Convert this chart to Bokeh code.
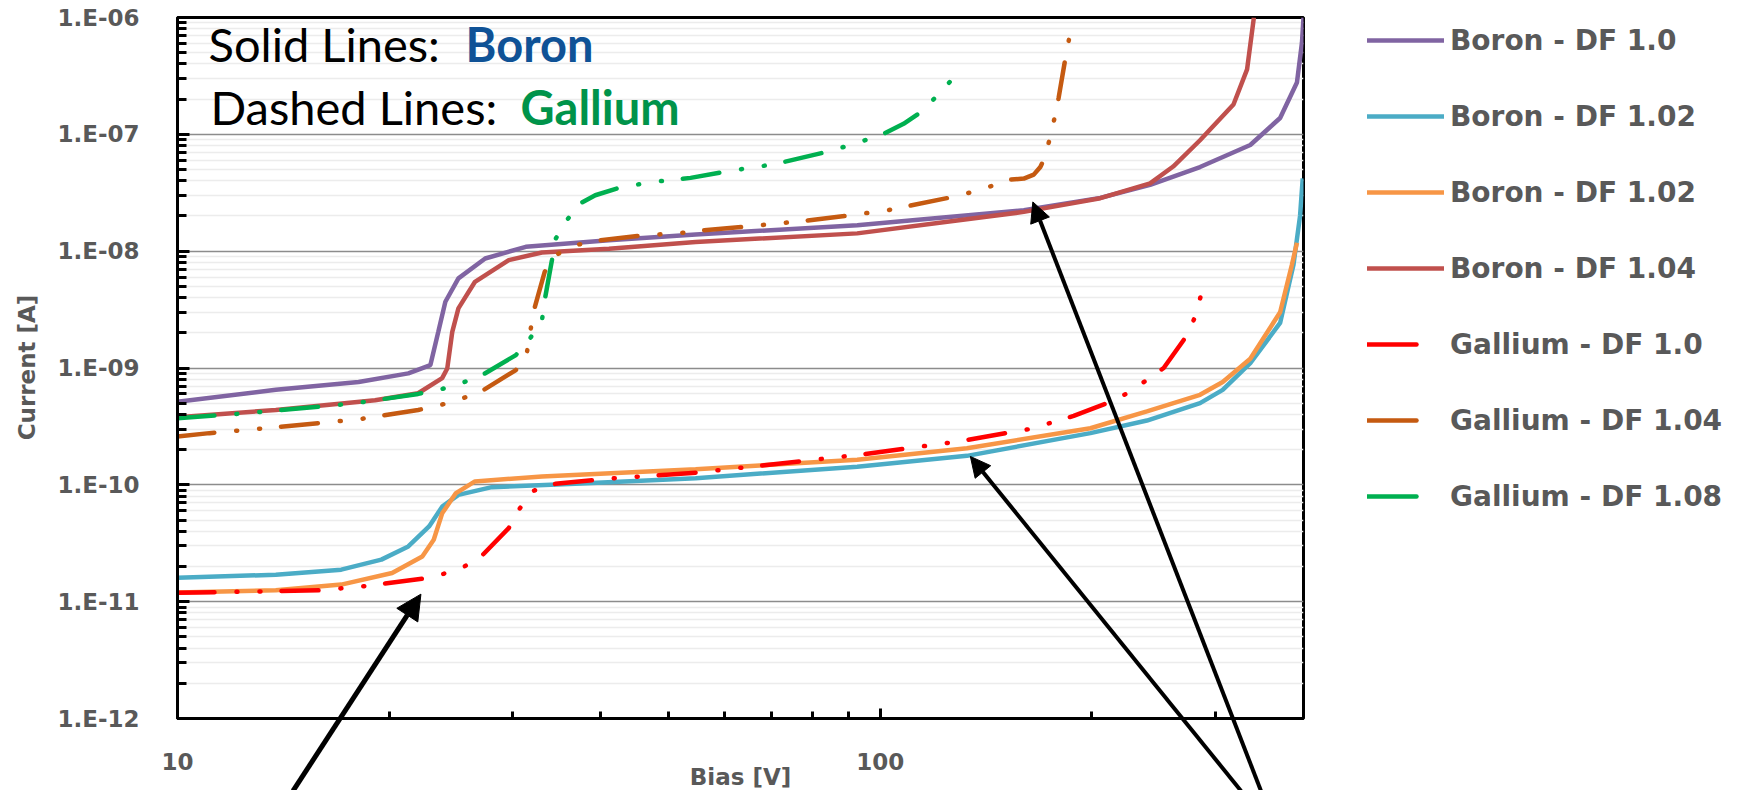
import math
from bokeh.plotting import figure
from bokeh.layouts import column
from bokeh.models import (Range1d, FixedTicker, CustomJSTickFormatter, Legend, LegendItem,
                          Label, Arrow, NormalHead)
from bokeh.embed import file_html
from bokeh.resources import INLINE

# ---------------- data ----------------
b10_bias = [10, 13.8, 18.1, 21.3, 22.9, 23.5, 24.05, 25.1, 27.4, 31.3, 41.1, 54.6, 92.7, 160, 205.6,
            242, 285, 336, 370.5, 391.5, 398, 400]
b10_cur = [5.15e-10, 6.5e-10, 7.6e-10, 9.0e-10, 1.06e-9, 2.04e-9, 3.69e-9, 5.85e-9, 8.66e-9, 1.09e-8,
           1.24e-8, 1.39e-8, 1.67e-8, 2.24e-8, 2.86e-8, 3.7e-8, 5.25e-8, 8.1e-8, 1.38e-7, 2.78e-7,
           6.1e-7, 1.0e-6]

b102a_bias = [10, 13.8, 17.1, 19.5, 21.3, 22.8, 23.8, 25.1, 28.0, 36.8, 54.6, 92.7, 132.8, 199, 239.5,
              285, 307, 336, 370.5, 387, 395.5, 399]
b102a_cur = [1.6e-11, 1.7e-11, 1.88e-11, 2.29e-11, 2.97e-11, 4.4e-11, 6.5e-11, 8.2e-11, 9.55e-11,
             1.02e-10, 1.14e-10, 1.43e-10, 1.77e-10, 2.77e-10, 3.55e-10, 5.0e-10, 6.5e-10, 1.1e-9,
             2.43e-9, 7.6e-9, 2.0e-8, 4.2e-8]

b102b_bias = [10, 13.8, 17.1, 20.2, 22.3, 23.15, 23.8, 24.9, 26.5, 33.0, 54.6, 92.7, 132.8, 199, 239.5,
              285, 307, 336, 370.5, 385, 391.5]
b102b_cur = [1.2e-11, 1.25e-11, 1.4e-11, 1.76e-11, 2.44e-11, 3.39e-11, 5.7e-11, 8.5e-11, 1.07e-10,
             1.18e-10, 1.36e-10, 1.64e-10, 2.06e-10, 3.05e-10, 4.25e-10, 5.9e-10, 7.6e-10, 1.2e-9,
             3.0e-9, 7.6e-9, 1.18e-8]

b104_bias = [10, 13.8, 19.1, 22.0, 23.8, 24.2, 24.6, 25.1, 26.5, 29.6, 33.0, 41.1, 54.6, 92.7, 160,
             205.6, 242, 261, 285, 318, 332.5, 340]
b104_cur = [3.79e-10, 4.37e-10, 5.3e-10, 6.08e-10, 8.2e-10, 9.9e-10, 2.04e-9, 3.24e-9, 5.47e-9,
            8.38e-9, 9.75e-9, 1.05e-8, 1.2e-8, 1.42e-8, 2.17e-8, 2.84e-8, 3.8e-8, 5.3e-8, 8.9e-8,
            1.8e-7, 3.6e-7, 1.0e-6]

g10_bias = [10, 15.9, 18.3, 22.3, 23.9, 25.6, 27.1, 29.6, 30.7, 32.1, 34.5, 41.1, 54.6, 92.7, 128.5,
            163.5, 188.4, 210, 225.5, 239.5, 253, 273, 281, 286]
g10_cur = [1.19e-11, 1.25e-11, 1.35e-11, 1.57e-11, 1.73e-11, 2.0e-11, 2.47e-11, 4.26e-11, 6.3e-11,
           8.9e-11, 1.02e-10, 1.13e-10, 1.27e-10, 1.8e-10, 2.34e-10, 3.01e-10, 3.89e-10, 4.99e-10,
           6.15e-10, 7.9e-10, 1.0e-9, 1.9e-9, 2.82e-9, 4.25e-9]

g104_bias = [10, 11.1, 13.8, 18.1, 22.0, 23.7, 25.3, 27.0, 30.3, 31.4, 32.1, 33.3, 34.7, 36.95, 39.5,
             45.1, 51.9, 56.1, 63.6, 78.2, 89.1, 102.8, 109.7, 125, 134, 143.4, 153, 160, 165.3,
             168.9, 170.7, 173.9, 176.8, 179.3, 183.3, 185.7, 187]
g104_cur = [2.59e-10, 2.77e-10, 3.11e-10, 3.64e-10, 4.37e-10, 4.83e-10, 5.43e-10, 6.27e-10, 9.6e-10,
            1.33e-9, 3.03e-9, 6.66e-9, 9.4e-9, 1.13e-8, 1.23e-8, 1.35e-8, 1.43e-8, 1.51e-8, 1.61e-8,
            1.82e-8, 2.0e-8, 2.25e-8, 2.44e-8, 2.86e-8, 3.17e-8, 3.59e-8, 4.09e-8, 4.18e-8, 4.52e-8,
            5.26e-8, 6.0e-8, 8.8e-8, 1.35e-7, 2.04e-7, 4.43e-7, 6.7e-7, 9.5e-7]

g108_bias = [10, 12.0, 13.8, 16.9, 18.1, 22.0, 23.7, 25.3, 27.0, 30.3, 31.7, 33.0, 33.3, 34.1, 34.5,
             35.8, 37.4, 39.3, 42.2, 45.1, 48.4, 53.7, 59.2, 63.4, 68.1, 72.9, 83.0, 88.7, 94.7,
             101.1, 107.9, 113.8, 119.5, 125.5]
g108_cur = [3.72e-10, 4.02e-10, 4.32e-10, 4.83e-10, 5.05e-10, 6.0e-10, 6.57e-10, 7.4e-10, 8.55e-10,
            1.29e-9, 1.77e-9, 2.54e-9, 3.81e-9, 8.38e-9, 1.27e-8, 1.84e-8, 2.56e-8, 3.01e-8, 3.44e-8,
            3.72e-8, 3.96e-8, 4.24e-8, 4.7e-8, 5.03e-8, 5.36e-8, 5.8e-8, 6.97e-8, 7.8e-8, 8.83e-8,
            1.01e-7, 1.23e-7, 1.53e-7, 2.04e-7, 2.8e-7]

series_labels = ["Boron - DF 1.0", "Boron - DF 1.02", "Boron - DF 1.02", "Boron - DF 1.04",
                 "Gallium - DF 1.0", "Gallium - DF 1.04", "Gallium - DF 1.08"]

x_major_ticks = [10, 100, 1000]
x_minor_ticks = [20, 30, 40, 50, 60, 70, 80, 90, 200, 300]
y_major_ticks = [1e-12, 1e-11, 1e-10, 1e-9, 1e-8, 1e-7, 1e-6]
y_minor_ticks = [m * 10.0 ** e for e in range(-12, -6) for m in range(2, 10)]

# arrows: tail (below the axis) -> tip (on the curves)
arrow_tail_bias = [14.6, 326, 348]
arrow_tail_cur = [2.4e-13, 2.4e-13, 2.4e-13]
arrow_tip_bias = [22.2, 134.3, 164.8]
arrow_tip_cur = [1.16e-11, 1.75e-10, 2.64e-8]

# legend proxies: placed far outside the visible area (only their legend swatches show)
swatch_bias = [1e-3, 2e-3]
swatch_cur = [1e-30, 1e-30]

# ---------------- layout geometry (pixels) ----------------
W, H = 1735, 790
FL, FR, FT, FB = 177, 1303, 17, 718          # frame edges
XMIN, XMAX, YMIN, YMAX = 10, 400, 1e-12, 1e-6
PX_X = (FR - FL) / math.log10(XMAX / XMIN)
PX_Y = (FB - FT) / math.log10(YMAX / YMIN)

GRAY = "#595959"
FONT = "DejaVu Sans"

# ---------------- main figure ----------------
p = figure(width=W, height=H, x_axis_type="log", y_axis_type="log",
           x_range=Range1d(XMIN, XMAX), y_range=Range1d(YMIN, YMAX),
           output_backend="svg", toolbar_location=None,
           min_border_left=FL, min_border_right=W - FR, min_border_top=FT, min_border_bottom=H - FB)
p.outline_line_color = "black"
p.outline_line_width = 3
p.background_fill_color = "white"
p.border_fill_color = "white"

xt = FixedTicker(ticks=x_major_ticks, minor_ticks=x_minor_ticks)
yt = FixedTicker(ticks=y_major_ticks, minor_ticks=y_minor_ticks)

xa = p.xaxis[0]
xa.ticker = xt
xa.formatter = CustomJSTickFormatter(code="return Math.round(tick).toString();")
ya = p.yaxis[0]
ya.ticker = yt
ya.formatter = CustomJSTickFormatter(code="""
const e = Math.round(Math.log10(tick));
const a = Math.abs(e);
return "1.E" + (e < 0 ? "-" : "+") + (a < 10 ? "0" + a : "" + a);
""")

for ax in (xa, ya):
    ax.axis_line_color = "black"
    ax.axis_line_width = 3
    ax.major_tick_line_color = "black"
    ax.major_tick_line_width = 3
    ax.minor_tick_line_color = "black"
    ax.minor_tick_line_width = 3
    ax.major_tick_out = 0
    ax.minor_tick_out = 0
    ax.major_label_text_font = FONT
    ax.major_label_text_font_style = "bold"
    ax.major_label_text_font_size = "23px"
    ax.major_label_text_color = GRAY

xa.major_tick_in = 10
xa.minor_tick_in = 7
xa.major_label_standoff = 34
ya.major_tick_in = 12
ya.minor_tick_in = 9
ya.major_label_standoff = 38

p.xgrid.grid_line_color = None
p.ygrid.ticker = yt
p.ygrid.grid_line_color = "#8c8c8c"
p.ygrid.grid_line_width = 1.5
p.ygrid.minor_grid_line_color = "#ececec"
p.ygrid.minor_grid_line_width = 1.5

# ---------------- series ----------------
LW = 4.5
DASH = "37 22 1 22 1 21"
colors = ["#8064A2", "#4BACC6", "#F79646", "#C0504D", "#FF0000", "#C55A11", "#00B050"]

p.line(b10_bias, b10_cur, line_color=colors[0], line_width=LW)
p.line(b102a_bias, b102a_cur, line_color=colors[1], line_width=LW)
p.line(b102b_bias, b102b_cur, line_color=colors[2], line_width=LW)
p.line(b104_bias, b104_cur, line_color=colors[3], line_width=LW)
p.line(g10_bias, g10_cur, line_color=colors[4], line_width=LW, line_dash=DASH, line_cap="round")
p.line(g104_bias, g104_cur, line_color=colors[5], line_width=LW, line_dash=DASH, line_cap="round")
p.line(g108_bias, g108_cur, line_color=colors[6], line_width=LW, line_dash=DASH, line_cap="round")

# in-plot notes
p.add_layout(Label(x=11.07, y=5.93e-7, text="Solid Lines:", text_font="Lato",
                   text_font_size="47px", text_color="black", text_baseline="middle"))
p.add_layout(Label(x=25.7, y=5.93e-7, text="Boron", text_font="Lato", text_font_style="bold",
                   text_font_size="47px", text_color="#0F5296", text_baseline="middle"))
p.add_layout(Label(x=11.14, y=1.703e-7, text="Dashed Lines:", text_font="Lato",
                   text_font_size="47px", text_color="black", text_baseline="middle"))
p.add_layout(Label(x=30.76, y=1.703e-7, text="Gallium", text_font="Lato", text_font_style="bold",
                   text_font_size="47px", text_color="#00934A", text_baseline="middle"))

# ---------------- transparent overlay (same scales, frame = whole canvas) ----------------
ov = figure(width=W, height=H, x_axis_type="log", y_axis_type="log",
            x_range=Range1d(10 ** (1 - FL / PX_X), 10 ** (1 + (W - FL) / PX_X)),
            y_range=Range1d(10 ** (-6 - (H - FT) / PX_Y), 10 ** (-6 + FT / PX_Y)),
            output_backend="svg", toolbar_location=None,
            x_axis_location=None, y_axis_location=None,
            min_border_left=0, min_border_right=0, min_border_top=0, min_border_bottom=0,
            margin=(-H, 0, 0, 0))
ov.outline_line_color = None
ov.background_fill_alpha = 0
ov.border_fill_alpha = 0
ov.grid.visible = False

# keep each figure's frame where it is set (no frame alignment between the stacked figures)
for f in (p, ov):
    if "frame_align" in f.properties():
        f.frame_align = False

# axis titles
ov.add_layout(Label(x=10 ** (1 + (740 - FL) / PX_X), y=10 ** (-6 - (776 - FT) / PX_Y),
                    text="Bias [V]", text_font=FONT, text_font_style="bold", text_font_size="23px",
                    text_color=GRAY, text_align="center", text_baseline="middle"))
ov.add_layout(Label(x=10 ** (1 + (26 - FL) / PX_X), y=10 ** (-6 - (367 - FT) / PX_Y),
                    text="Current [A]", text_font=FONT, text_font_style="bold", text_font_size="23px",
                    text_color=GRAY, text_align="center", text_baseline="middle", angle=math.pi / 2))

# arrows
arrow_widths = [5, 4, 4]
head_sizes = [25, 20, 20]
for i in range(3):
    ov.add_layout(Arrow(end=NormalHead(size=head_sizes[i], fill_color="black", line_color="black",
                                       line_width=1),
                        x_start=arrow_tail_bias[i], y_start=arrow_tail_cur[i],
                        x_end=arrow_tip_bias[i], y_end=arrow_tip_cur[i],
                        line_color="black", line_width=arrow_widths[i]))

# legend (solid strokes for Boron, short strokes for Gallium)
sw = []
for i, c in enumerate(colors):
    if i < 4:
        sw.append(ov.line(swatch_bias, swatch_cur, line_color=c, line_width=LW, line_cap="round"))
    else:
        sw.append(ov.line(swatch_bias, swatch_cur, line_color=c, line_width=LW, line_dash="49 300",
                          line_cap="round"))
items = [LegendItem(label=series_labels[i], renderers=[r]) for i, r in enumerate(sw)]
legend = Legend(items=items, location=(1367, H - 513), orientation="vertical",
                glyph_width=77, glyph_height=34, label_height=34, label_standoff=6,
                spacing=42, padding=0, margin=0,
                label_text_font=FONT, label_text_font_style="bold",
                label_text_font_size="28px", label_text_color=GRAY,
                border_line_alpha=0, background_fill_alpha=0)
ov.add_layout(legend)

page = column(p, ov, spacing=0)
open("out.html", "w").write(file_html(page, INLINE))
